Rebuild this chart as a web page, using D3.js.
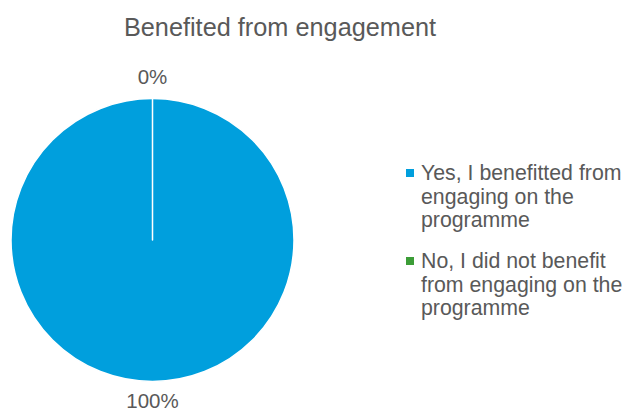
<!DOCTYPE html>
<html>
<head>
<meta charset="utf-8">
<script src="https://cdn.jsdelivr.net/npm/d3@7"></script>
<style>
  html, body { margin: 0; padding: 0; background: #fff; }
  svg { display: block; font-family: "Liberation Sans", Arial, sans-serif; }
</style>
</head>
<body>
<svg id="chart" width="623" height="412"></svg>
<script>
// Survey answers and their shares (%)
const categories = [
  "Yes, I benefitted from engaging on the programme",
  "No, I did not benefit from engaging on the programme"
];
const values = [100, 0];
const legendLines = [
  ["Yes, I benefitted from", "engaging on the", "programme"],
  ["No, I did not benefit", "from engaging on the", "programme"]
];
const colors = ["#009FDD", "#3C9D37"];
const title = "Benefited from engagement";

const svg = d3.select("#chart");
const cx = 152.5, cy = 240, r = 141.5;

svg.append("text")
  .attr("x", 280).attr("y", 36)
  .attr("text-anchor", "middle")
  .attr("font-size", 25.3)
  .attr("fill", "#595959")
  .text(title);

const pie = d3.pie().sort(null).value(d => d);
const arcs = pie(values);
const arc = d3.arc().innerRadius(0).outerRadius(r);

const g = svg.append("g").attr("transform", `translate(${cx},${cy})`);
g.selectAll("path")
  .data(arcs)
  .join("path")
  .attr("d", arc)
  .attr("fill", (d, i) => colors[i])
  .attr("stroke", "#fff")
  .attr("stroke-width", 1.5)
  .attr("stroke-linejoin", "round");

// Percentage labels just outside the rim, at each slice's mid-angle
g.selectAll("text.pct")
  .data(arcs)
  .join("text")
  .attr("class", "pct")
  .attr("text-anchor", "middle")
  .attr("font-size", 20.5)
  .attr("fill", "#595959")
  .attr("x", d => {
    const mid = (d.startAngle + d.endAngle) / 2;
    return (r + 14) * Math.sin(mid);
  })
  .attr("y", d => {
    const mid = (d.startAngle + d.endAngle) / 2;
    const c = -Math.cos(mid);
    return c < 0 ? c * (r + 14.5) : c * (r + 26.5);
  })
  .text(d => d.data + "%");

// Legend
const legend = svg.append("g");
const entryY = [180, 268];
categories.forEach((c, i) => {
  const eg = legend.append("g");
  eg.append("rect")
    .attr("x", 406).attr("y", entryY[i] - 11)
    .attr("width", 8).attr("height", 8)
    .attr("fill", colors[i]);
  const t = eg.append("text")
    .attr("font-size", 21.3)
    .attr("fill", "#595959");
  legendLines[i].forEach((ln, j) => {
    t.append("tspan").attr("x", 421).attr("y", entryY[i] + j * 23.5).text(ln);
  });
});
</script>
</body>
</html>
